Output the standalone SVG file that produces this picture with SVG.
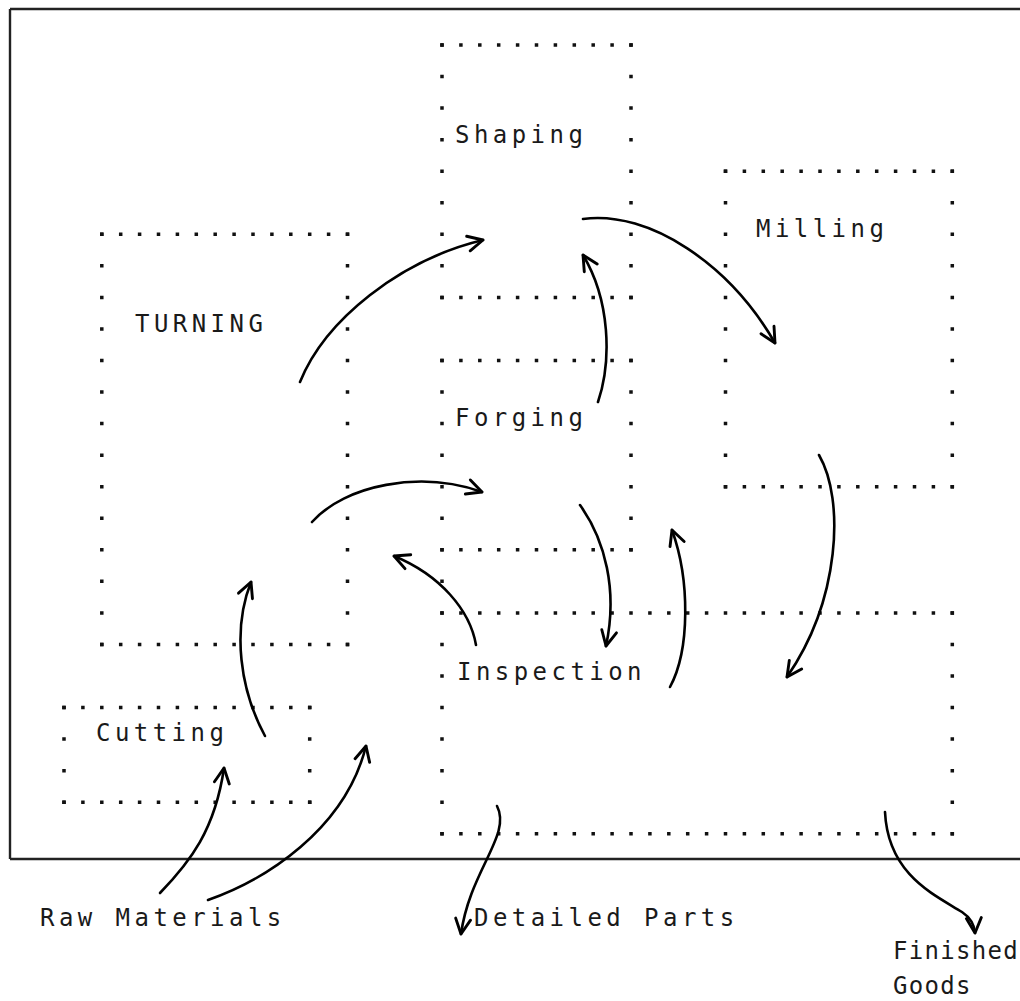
<svg xmlns="http://www.w3.org/2000/svg" width="1020" height="1001" viewBox="0 0 1020 1001">
  <style>
    .row { stroke: #111; stroke-width: 3.5; stroke-dasharray: 3.5 15.4; fill: none; }
    .col { stroke: #111; stroke-width: 3.5; stroke-dasharray: 3.5 28.05; fill: none; }
    .lbl { font-family: "DejaVu Sans Mono", "Liberation Mono", monospace; font-size: 24px; fill: #1a1a1a; letter-spacing: 4.45px; }
    .lbl-narrow { letter-spacing: 1.3px; }
    .frame { stroke: #222; stroke-width: 2.4; fill: none; }
    .flow { stroke: #000; stroke-width: 2.6; fill: none; stroke-linecap: round; marker-end: url(#head); }
  </style>
  <defs>
    <marker id="head" markerUnits="userSpaceOnUse" markerWidth="40" markerHeight="40" refX="0" refY="0" orient="auto" overflow="visible">
      <path d="M-15,-7.5 L0,0 L-15,7.5" fill="none" stroke="#000" stroke-width="2.9" stroke-linecap="round" stroke-linejoin="round"/>
    </marker>
  </defs>
  <rect width="1020" height="1001" fill="#fff"/>

  <!-- outer frame: top, left and bottom edges -->
  <g id="frame">
    <path class="frame" d="M10,9 H1020 M10,9 V859 M10,859 H1020"/>
  </g>

  <!-- Shaping -->
  <g id="node-shaping">
    <line class="row" x1="440.25" y1="45" x2="632.75" y2="45"/>
    <line class="row" x1="440.25" y1="297.4" x2="632.75" y2="297.4"/>
    <line class="col" x1="442" y1="43.25" x2="442" y2="299.15"/>
    <line class="col" x1="631" y1="43.25" x2="631" y2="299.15"/>
    <text class="lbl" x="455" y="143">Shaping</text>
  </g>

  <!-- Forging -->
  <g id="node-forging">
    <line class="row" x1="440.25" y1="360.5" x2="632.75" y2="360.5"/>
    <line class="row" x1="440.25" y1="549.8" x2="632.75" y2="549.8"/>
    <line class="col" x1="442" y1="358.75" x2="442" y2="583.1"/>
    <line class="col" x1="631" y1="358.75" x2="631" y2="551.55"/>
    <text class="lbl" x="455" y="426">Forging</text>
  </g>

  <!-- TURNING -->
  <g id="node-turning">
    <line class="row" x1="100.05" y1="234.3" x2="349.25" y2="234.3"/>
    <line class="row" x1="100.05" y1="644.45" x2="349.25" y2="644.45"/>
    <line class="col" x1="101.8" y1="232.55" x2="101.8" y2="646.2"/>
    <line class="col" x1="347.5" y1="232.55" x2="347.5" y2="646.2"/>
    <text class="lbl" x="135" y="332">TURNING</text>
  </g>

  <!-- Milling -->
  <g id="node-milling">
    <line class="row" x1="723.75" y1="171.2" x2="954.05" y2="171.2"/>
    <line class="row" x1="723.75" y1="486.7" x2="954.05" y2="486.7"/>
    <line class="col" x1="725.5" y1="169.45" x2="725.5" y2="488.45"/>
    <line class="col" x1="952.3" y1="169.45" x2="952.3" y2="488.45"/>
    <text class="lbl" x="756" y="237">Milling</text>
  </g>

  <!-- Cutting -->
  <g id="node-cutting">
    <line class="row" x1="62.25" y1="707.55" x2="311.45" y2="707.55"/>
    <line class="row" x1="62.25" y1="802.2" x2="311.45" y2="802.2"/>
    <line class="col" x1="64" y1="705.8" x2="64" y2="803.95"/>
    <line class="col" x1="309.7" y1="705.8" x2="309.7" y2="803.95"/>
    <text class="lbl" x="96" y="741">Cutting</text>
  </g>

  <!-- Inspection -->
  <g id="node-inspection">
    <line class="row" x1="440.25" y1="612.9" x2="954.05" y2="612.9"/>
    <line class="row" x1="440.25" y1="833.75" x2="954.05" y2="833.75"/>
    <line class="col" x1="442" y1="611.15" x2="442" y2="835.5"/>
    <line class="col" x1="952.3" y1="611.15" x2="952.3" y2="835.5"/>
    <text class="lbl" x="457" y="680">Inspection</text>
  </g>

  <!-- external inputs and outputs -->
  <g id="node-raw-materials">
    <text class="lbl" x="40" y="926">Raw Materials</text>
  </g>
  <g id="node-detailed-parts">
    <text class="lbl" x="474" y="926">Detailed Parts</text>
  </g>
  <g id="node-finished-goods">
    <text class="lbl lbl-narrow" x="893" y="959">Finished</text>
    <text class="lbl lbl-narrow" x="893" y="994">Goods</text>
  </g>

  <!-- material flow -->
  <g id="connectors">
    <path class="flow" d="M300,382 C325,320 400,260 483,240"/>
    <path class="flow" d="M583,219 C650,210 730,265 775,343"/>
    <path class="flow" d="M598,402 C612,360 610,300 583,255"/>
    <path class="flow" d="M312,522 C345,485 420,470 482,492"/>
    <path class="flow" d="M476,645 C470,610 440,575 394,556"/>
    <path class="flow" d="M265,736 C240,690 232,630 251,582"/>
    <path class="flow" d="M160,893 C190,862 215,830 224,768"/>
    <path class="flow" d="M208,900 C265,880 345,830 366,746"/>
    <path class="flow" d="M580,505 C605,540 618,590 606,646"/>
    <path class="flow" d="M670,687 C690,650 690,580 672,530"/>
    <path class="flow" d="M819,455 C845,500 840,600 787,677"/>
    <path class="flow" d="M497,806 C512,835 470,870 461,934"/>
    <path class="flow" d="M885,812 C888,875 935,895 962,912 Q974,920 975,933"/>
  </g>
</svg>
